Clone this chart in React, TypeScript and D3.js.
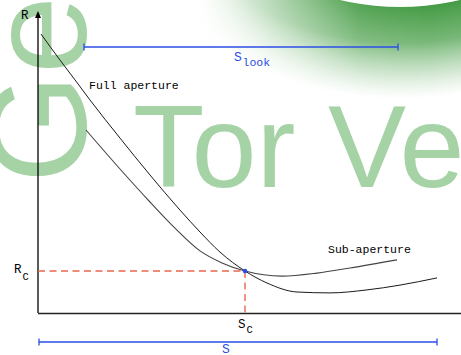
import React from "react";
import * as d3 from "d3";

const W = 461;
const H = 355;

// Range R versus along-track position S (arbitrary units 0..100)
const fullS = [0.75, 5.5, 9.25, 13, 20.5, 28, 35.5, 40.5, 45.5, 51.75, 57.25, 64.75, 73, 82.25, 90.5, 99.75];
const fullR = [93, 84.3, 77.7, 71, 58.3, 46, 34.3, 27, 20.3, 14, 10, 7, 6.7, 7.7, 9.3, 11.7];

const subS = [12, 20.5, 28, 34.25, 40.5, 46, 51.75, 61, 69.75, 78, 89.75];
const subR = [61, 48, 37, 28.3, 20.7, 16.7, 14, 12.3, 13.3, 15, 17.7];

// Closest-approach point and spans
const sC = 51.75;
const rC = 14;
const lookSpan = [11.5, 90];
const fullSpan = [0.25, 99.75];

const BLUE = "#2b4ee6";
const MONO = "'Courier New', 'Liberation Mono', monospace";

export default function App() {
  const x = d3.scaleLinear().domain([0, 100]).range([38, 438]);
  const y = d3.scaleLinear().domain([0, 100]).range([313, 13]);

  const line = d3
    .line<[number, number]>()
    .x((d) => x(d[0]))
    .y((d) => y(d[1]))
    .curve(d3.curveMonotoneX);

  const fullPts = fullS.map((s, i) => [s, fullR[i]] as [number, number]);
  const subPts = subS.map((s, i) => [s, subR[i]] as [number, number]);

  // Logo ring in the top-right corner (drawn around its own origin)
  const cx = 400, cy = -253, rIn = 260, rOut = 352;
  const ring = d3.arc()({
    innerRadius: rIn,
    outerRadius: rOut,
    startAngle: 0,
    endAngle: 2 * Math.PI,
  } as any) as string;

  const spanBar = (a: number, b: number, yy: number) => (
    <g stroke={BLUE} strokeWidth={1.3}>
      <line x1={x(a)} x2={x(b)} y1={yy} y2={yy} />
      <line x1={x(a)} x2={x(a)} y1={yy - 3.5} y2={yy + 3.5} />
      <line x1={x(b)} x2={x(b)} y1={yy - 3.5} y2={yy + 3.5} />
    </g>
  );

  return (
    <svg
      width={W}
      height={H}
      style={{ position: "absolute", left: 0, top: 0, background: "#fff" }}
    >
      <defs>
        <radialGradient id="ringFade" gradientUnits="userSpaceOnUse" cx={0} cy={0} r={rOut}>
          <stop offset={rIn / rOut} stopColor="#459b45" stopOpacity={1} />
          <stop offset={0.84} stopColor="#55a555" stopOpacity={0.8} />
          <stop offset={0.93} stopColor="#78b878" stopOpacity={0.35} />
          <stop offset={1} stopColor="#a0cca0" stopOpacity={0} />
        </radialGradient>
        <linearGradient id="ringSide" gradientUnits="userSpaceOnUse" x1={195} y1={0} x2={430} y2={0}>
          <stop offset={0} stopColor="#fff" stopOpacity={0} />
          <stop offset={0.35} stopColor="#fff" stopOpacity={0.5} />
          <stop offset={0.7} stopColor="#fff" stopOpacity={0.92} />
          <stop offset={1} stopColor="#fff" stopOpacity={1} />
        </linearGradient>
        <mask id="ringMask" maskUnits="userSpaceOnUse" x={0} y={0} width={W} height={H}>
          <rect x={0} y={0} width={W} height={H} fill="url(#ringSide)" />
        </mask>
      </defs>

      {/* watermark */}
      <g fill="#a6d3a6" fontFamily="'Liberation Sans', Arial, sans-serif">
        <text x={133} y={187} fontSize={117}>
          Tor Ve
        </text>
        <text transform="translate(86,183) rotate(-90)" fontSize={140}>
          Ge
        </text>
      </g>
      <g mask="url(#ringMask)">
        <path d={ring} transform={`translate(${cx},${cy})`} fill="url(#ringFade)" />
      </g>

      {/* axes */}
      <line x1={38} x2={38} y1={313} y2={15} stroke="#000" strokeWidth={1.3} />
      <path d="M38,11 L35,18 L41,18 Z" fill="#000" />
      <line x1={38} x2={W} y1={313.5} y2={313.5} stroke="#222" strokeWidth={1.6} />

      {/* reference point guides */}
      <g stroke="#e8674f" strokeWidth={1.4} strokeDasharray="7,4.5" fill="none">
        <line x1={x(0)} x2={x(sC)} y1={y(rC)} y2={y(rC)} />
        <line x1={x(sC)} x2={x(sC)} y1={y(rC)} y2={313} />
      </g>

      {/* range curves */}
      <path d={line(fullPts) || ""} fill="none" stroke="#1a1a1a" strokeWidth={1} />
      <path d={line(subPts) || ""} fill="none" stroke="#444" strokeWidth={1.1} />
      <circle cx={x(sC)} cy={y(rC)} r={2.3} fill={BLUE} />

      {/* spans */}
      {spanBar(lookSpan[0], lookSpan[1], 47)}
      {spanBar(fullSpan[0], fullSpan[1], 342)}

      {/* labels */}
      <g fontFamily={MONO} fill="#000">
        <text x={21} y={19} fontSize={12.5}>R</text>
        <text x={14} y={273} fontSize={12.5}>R</text>
        <text x={22.5} y={279.5} fontSize={10.5}>C</text>
        <text x={238} y={327.5} fontSize={12.5}>S</text>
        <text x={246.5} y={333} fontSize={10.5}>C</text>
        <text x={89} y={89} fontSize={11.5}>Full aperture</text>
        <text x={328} y={253} fontSize={11.5}>Sub-aperture</text>
      </g>
      <g fontFamily={MONO} fill={BLUE}>
        <text x={234} y={61} fontSize={13}>S</text>
        <text x={242.5} y={66} fontSize={11.5}>look</text>
        <text x={222} y={353} fontSize={13}>S</text>
      </g>
    </svg>
  );
}
